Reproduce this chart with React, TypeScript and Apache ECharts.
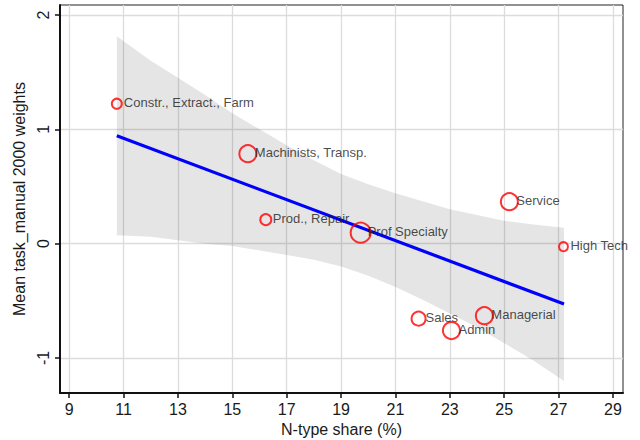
import React, { useEffect, useRef } from "react";
import * as echarts from "echarts";

// ---- data ----
const occupations = [
  "Constr., Extract., Farm",
  "Machinists, Transp.",
  "Prod., Repair",
  "Prof Specialty",
  "Service",
  "High Tech",
  "Sales",
  "Admin",
  "Managerial",
];
const nTypeShare = [10.75, 15.57, 16.23, 19.72, 25.19, 27.18, 21.85, 23.06, 24.27];
const meanTaskManual = [1.224, 0.787, 0.21, 0.096, 0.367, -0.026, -0.656, -0.76, -0.63];
// marker size (reflects 2000 employment weights)
const employmentWeight = [10, 17, 11, 20, 17, 9, 14, 17, 17];

// fitted line
const fitX = [10.75, 27.2];
const fitY = [0.944, -0.528];

// confidence band
const bandX = [10.75, 12, 13, 14, 15, 16, 17, 18, 19, 20, 21, 22, 23, 24, 25, 26, 27.2];
const bandUpper = [1.814, 1.6, 1.45, 1.3, 1.14, 1.0, 0.86, 0.73, 0.61, 0.52, 0.44, 0.37, 0.3, 0.25, 0.2, 0.17, 0.14];
const bandLower = [0.074, 0.06, 0.03, 0.0, -0.02, -0.06, -0.1, -0.14, -0.2, -0.28, -0.38, -0.49, -0.61, -0.73, -0.87, -1.01, -1.2];

const xTicks = [9, 11, 13, 15, 17, 19, 21, 23, 25, 27, 29];
const yTicks = [-1, 0, 1, 2];

const FONT = "'Liberation Sans', Arial, sans-serif";

export default function App() {
  const ref = useRef<HTMLDivElement>(null);

  useEffect(() => {
    if (!ref.current) return;
    const chart = echarts.init(ref.current, undefined, { renderer: "svg" });

    const option: any = {
      animation: false,
      backgroundColor: "#ffffff",
      grid: {
        left: 60,
        right: 17,
        top: 5,
        bottom: 47,
        containLabel: false,
        outerBoundsMode: "none",
        show: true,
        borderColor: "#222222",
        borderWidth: 1,
        backgroundColor: "transparent",
      },
      xAxis: {
        type: "value",
        min: 8.66,
        max: 29.37,
        name: "N-type share (%)",
        nameLocation: "middle",
        nameGap: 25,
        nameTextStyle: { fontSize: 16, color: "#1a1a1a", fontFamily: FONT },
        axisLine: { show: true, onZero: false, lineStyle: { color: "#111", width: 2 } },
        axisTick: {
          show: true,
          length: 5,
          customValues: xTicks,
          lineStyle: { color: "#111", width: 1.5 },
        },
        axisLabel: {
          customValues: xTicks,
          fontSize: 16,
          color: "#1a1a1a",
          fontFamily: FONT,
          margin: 8,
        },
        splitLine: { show: true, lineStyle: { color: "#dcdcdc", width: 1.3 } },
      },
      yAxis: {
        type: "value",
        min: -1.306,
        max: 2.087,
        name: "Mean task_manual 2000 weights",
        nameLocation: "middle",
        nameGap: 29,
        nameTextStyle: { fontSize: 16, color: "#1a1a1a", fontFamily: FONT },
        axisLine: { show: true, onZero: false, lineStyle: { color: "#111", width: 2 } },
        axisTick: {
          show: true,
          length: 5,
          customValues: yTicks,
          lineStyle: { color: "#111", width: 1.5 },
        },
        axisLabel: {
          customValues: yTicks,
          rotate: 90,
          fontSize: 16,
          color: "#1a1a1a",
          fontFamily: FONT,
          margin: 9,
        },
        splitLine: { show: true, lineStyle: { color: "#dcdcdc", width: 1.3 } },
      },
      series: [
        {
          type: "custom",
          name: "band",
          silent: true,
          z: 1,
          data: [[bandX[0], bandUpper[0]]],
          renderItem: (_params: any, api: any) => {
            const pts: number[][] = [];
            for (let i = 0; i < bandX.length; i++) pts.push(api.coord([bandX[i], bandUpper[i]]));
            for (let i = bandX.length - 1; i >= 0; i--) pts.push(api.coord([bandX[i], bandLower[i]]));
            return {
              type: "polygon",
              shape: { points: pts },
              style: { fill: "rgba(0,0,0,0.1)" },
            };
          },
        },
        {
          type: "line",
          name: "fit",
          z: 3,
          silent: true,
          symbol: "none",
          data: fitX.map((x, i) => [x, fitY[i]]),
          lineStyle: { color: "#0000ff", width: 3.2 },
        },
        {
          type: "scatter",
          name: "occupations",
          z: 4,
          silent: true,
          data: occupations.map((name, i) => ({
            name,
            value: [nTypeShare[i], meanTaskManual[i]],
            symbolSize: employmentWeight[i],
            label: { position: [employmentWeight[i] / 2 + 8, employmentWeight[i] / 2] },
          })),
          symbol: "circle",
          itemStyle: { color: "rgba(255,255,255,0)", borderColor: "#ff0000", borderWidth: 2 },
          label: {
            show: true,
            formatter: "{b}",
            align: "left",
            verticalAlign: "middle",
            fontSize: 13,
            color: "#1a1a1a",
            fontFamily: FONT,
          },
        },
      ],
    };

    chart.setOption(option);
    return () => chart.dispose();
  }, []);

  return (
    <div
      ref={ref}
      style={{ position: "fixed", left: 0, top: 0, width: 640, height: 440, background: "#fff" }}
    />
  );
}
